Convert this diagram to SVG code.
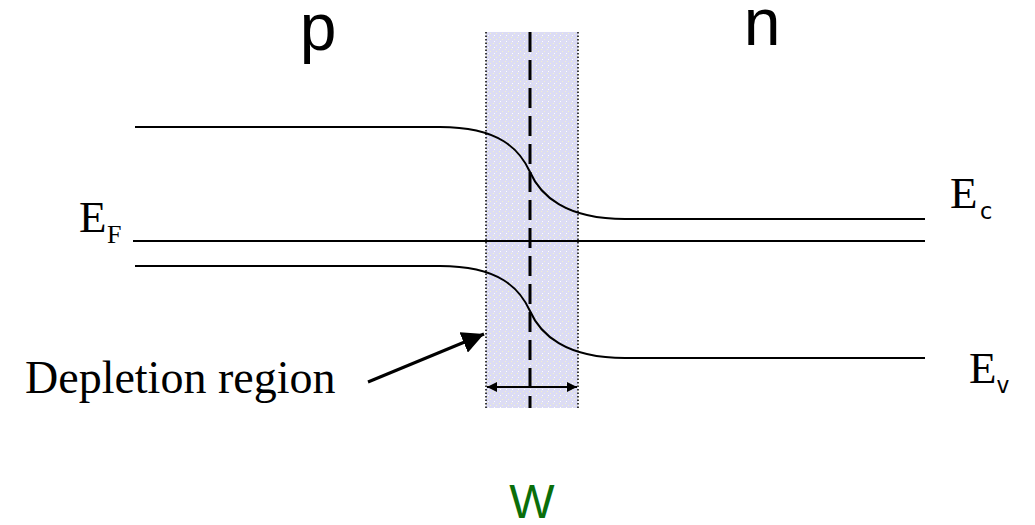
<svg xmlns="http://www.w3.org/2000/svg" width="1035" height="525" viewBox="0 0 1035 525">
<style>
.band{fill:none;stroke:#000;stroke-width:2}
.serif{font-family:"Liberation Serif","Times New Roman",serif;fill:#000}
.sans{font-family:"Liberation Sans",Arial,sans-serif}
.sub{font-family:"DejaVu Sans Mono","Liberation Mono",monospace;fill:#000}
</style>
<defs>
<marker id="ah" viewBox="0 0 10 10" refX="10" refY="5" markerWidth="10" markerHeight="10" markerUnits="userSpaceOnUse" orient="auto-start-reverse">
<path d="M0,0 L10,5 L0,10 Z" fill="#000"/>
</marker>
<marker id="big" viewBox="0 0 10 10" refX="10" refY="5" markerWidth="22" markerHeight="22" markerUnits="userSpaceOnUse" orient="auto">
<path d="M0,0 L10,5 L0,10 Z" fill="#000"/>
</marker>
<pattern id="speckle" width="6" height="6" patternUnits="userSpaceOnUse">
<rect width="6" height="6" fill="#dcdcf4"/>
<rect x="1" y="1" width="1" height="1" fill="#f4f4c8"/>
<rect x="4" y="3" width="1" height="1" fill="#f4f4c8"/>
<rect x="2" y="5" width="1" height="1" fill="#ffffff"/>
</pattern>
</defs>
<rect width="1035" height="525" fill="#fff"/>
<g id="depletion-region">
<rect x="486" y="32" width="92" height="376" fill="url(#speckle)"/>
<line x1="486" y1="32" x2="486" y2="408" stroke="#000" stroke-width="1.5" stroke-dasharray="1.5,2"/>
<line x1="578" y1="32" x2="578" y2="408" stroke="#000" stroke-width="1.5" stroke-dasharray="1.5,2"/>
<line x1="530" y1="32" x2="530" y2="408" stroke="#000" stroke-width="3" stroke-dasharray="20,8"/>
</g>
<g id="conduction-band">
<path class="band" d="M135,127 L440,127 C500,127 520,150 530,172 C540,195 565,219 625,219 L925,219"/>
</g>
<g id="fermi-level">
<line class="band" x1="133" y1="241" x2="925" y2="241"/>
</g>
<g id="valence-band">
<path class="band" d="M135,266 L440,266 C500,266 520,289 530,311 C540,334 565,358 625,358 L925,358"/>
</g>
<g id="connectors">
<line x1="368" y1="382" x2="484" y2="334" stroke="#000" stroke-width="3" marker-end="url(#big)"/>
<line x1="487" y1="387" x2="577" y2="387" stroke="#000" stroke-width="2" marker-start="url(#ah)" marker-end="url(#ah)"/>
</g>
<g id="labels">
<text class="sans" x="318" y="50" font-size="66" text-anchor="middle">p</text>
<text class="sans" x="762" y="45" font-size="66" text-anchor="middle">n</text>
<text class="serif" x="79" y="232" font-size="45">E</text>
<text class="serif" x="107" y="243" font-size="26">F</text>
<text class="serif" x="950" y="208" font-size="45">E</text>
<text class="sub" x="979" y="219" font-size="23">c</text>
<text class="serif" x="969" y="383" font-size="45">E</text>
<text class="sub" x="996" y="393" font-size="23">v</text>
<text class="serif" x="25" y="393" font-size="46">Depletion region</text>
<text class="sans" x="532" y="518" font-size="48" fill="#0a6e0a" text-anchor="middle">W</text>
</g>
</svg>
